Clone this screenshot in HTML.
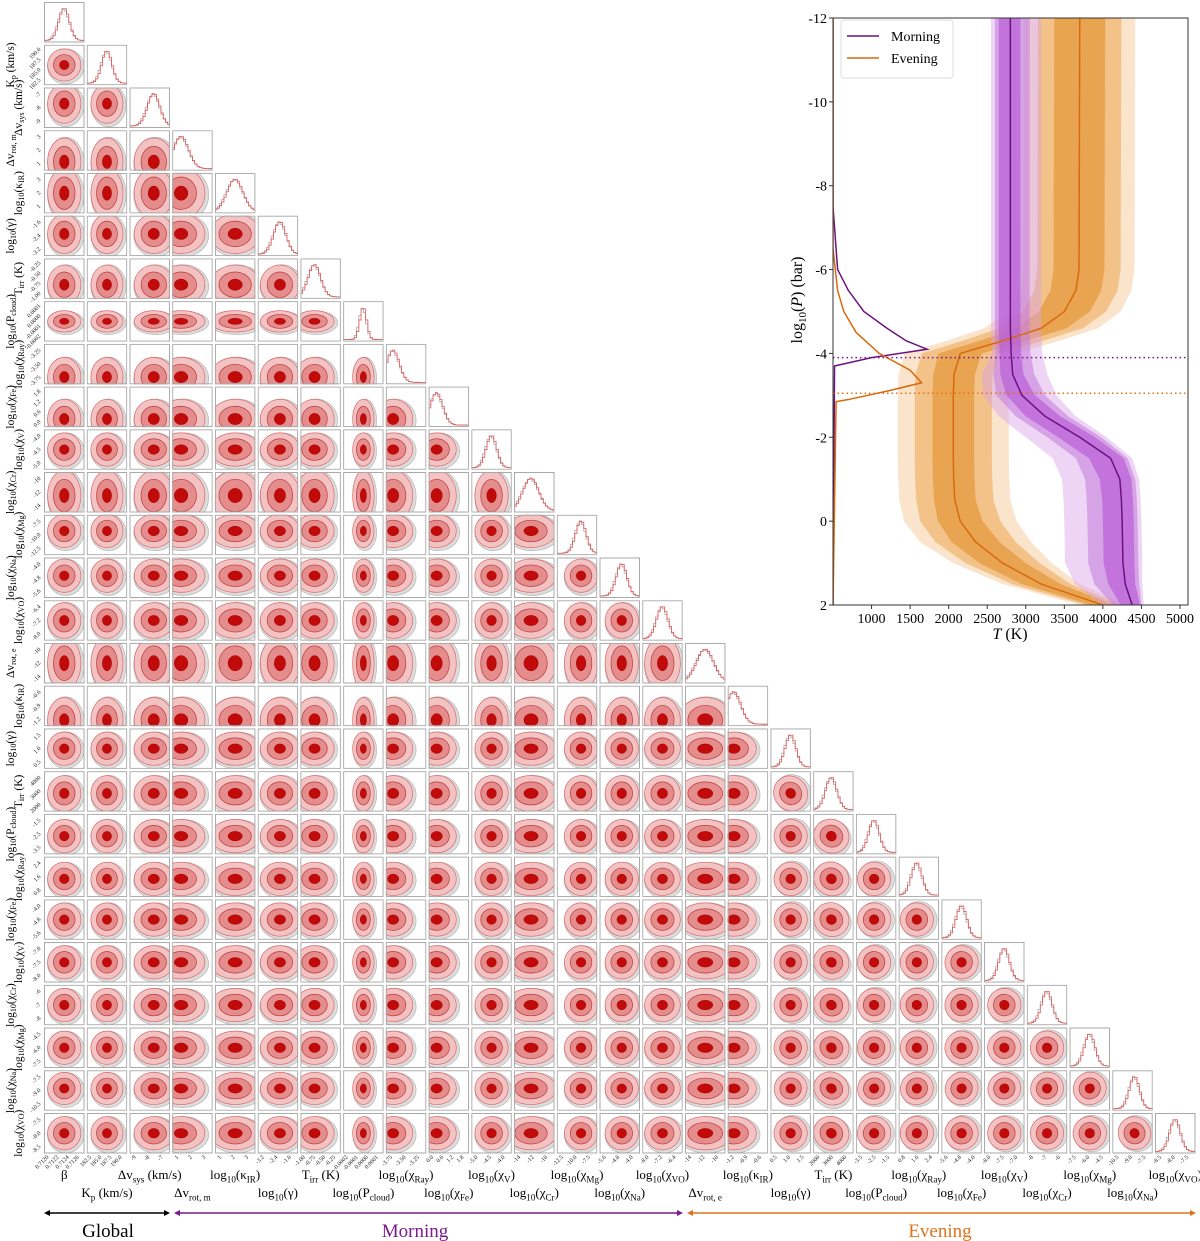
<!DOCTYPE html>
<html><head><meta charset="utf-8"><style>
html,body{margin:0;padding:0;background:#fff;}
svg{display:block;font-family:"Liberation Serif",serif;}
</style></head><body>
<svg id="root" width="1200" height="1241" viewBox="0 0 1200 1241" xmlns="http://www.w3.org/2000/svg"></svg>
<script>
// ---------- Corner plot data ----------
const paramLabels = ["β","K_p (km/s)","Δv_sys (km/s)","Δv_rot, m","log10(κ_IR)","log10(γ)","T_irr (K)","log10(P_cloud)","log10(χ_Ray)","log10(χ_Fe)","log10(χ_V)","log10(χ_Cr)","log10(χ_Mg)","log10(χ_Na)","log10(χ_VO)","Δv_rot, e","log10(κ_IR)","log10(γ)","T_irr (K)","log10(P_cloud)","log10(χ_Ray)","log10(χ_Fe)","log10(χ_V)","log10(χ_Cr)","log10(χ_Mg)","log10(χ_Na)","log10(χ_VO)"];
const postCenter = [0.5,0.5,0.6,0.22,0.5,0.55,0.35,0.5,0.18,0.2,0.5,0.42,0.6,0.55,0.5,0.5,0.15,0.5,0.45,0.45,0.45,0.5,0.5,0.5,0.5,0.55,0.5];
const postWidth  = [0.28,0.27,0.33,0.4,0.42,0.33,0.33,0.18,0.33,0.33,0.28,0.42,0.28,0.28,0.3,0.45,0.38,0.28,0.3,0.28,0.28,0.28,0.28,0.28,0.28,0.27,0.28];
const tickLabels = [["0.7120","0.7122","0.7124","0.7126"],["182.5","185.0","187.5","190.0"],["-9","-8","-7"],["1","2","3"],["1","2","3"],["-3.2","-2.4","-1.6"],["-1.00","-0.75","-0.50","-0.25"],["-0.0002","-0.0001","0.0000","0.0001"],["-3.75","-3.50","-3.25"],["0.0","0.6","1.2","1.8"],["-5.0","-4.5","-4.0"],["-14","-12","-10"],["-12.5","-10.0","-7.5"],["-5.6","-4.8","-4.0"],["-8.0","-7.2","-6.4"],["-14","-12","-10"],["-1.2","-0.9","-0.6"],["0.5","1.0","1.5"],["2000","3000","4000"],["-3.5","-2.5","-1.5"],["0.8","1.6","2.4"],["-5.6","-4.8","-4.0"],["-8.0","-7.5","-7.0"],["-8","-7","-6"],["-7.5","-6.0","-4.5"],["-10.5","-9.0","-7.5"],["-8.5","-8.0","-7.5"]];
// ---------- T-P data ----------
const pLevels = [-12,-6,-5.5,-5,-4.6,-4.3,-4,-3.5,-3,-2.5,-2,-1.5,-1,-0.5,0,0.5,1,1.5,2];
const mornMed = [2800,2800,2800,2800,2800,2805,2810,2830,2950,3250,3700,4100,4220,4240,4250,4255,4260,4290,4380];
const mornLo1 = [150,150,150,150,150,150,150,160,200,250,280,280,260,250,250,250,250,220,150];
const mornHi1 = [130,130,130,130,130,130,130,140,170,200,200,170,150,150,150,150,150,130,100];
const mornLo2 = [200,200,200,200,200,200,200,250,330,380,420,450,450,450,450,450,450,400,250];
const mornHi2 = [250,250,250,250,250,250,250,280,300,300,280,220,200,200,200,200,200,180,120];
const mornLo3 = [250,250,250,250,250,250,250,400,500,600,700,750,750,750,750,750,750,650,400];
const mornHi3 = [400,400,400,400,400,400,400,450,450,400,350,280,250,250,250,250,250,220,150];
const eveMed = [3700,3690,3650,3500,3200,2700,2150,2070,2060,2060,2060,2060,2065,2080,2150,2350,2700,3200,4000];
const eveW1 = [330,330,330,330,330,300,280,270,270,270,270,270,270,270,290,310,300,250,150];
const eveW2 = [540,540,540,540,540,520,500,500,500,500,500,500,500,500,520,520,480,380,220];
const eveW3 = [720,720,720,730,740,730,720,720,720,720,720,720,720,720,730,720,640,500,300];
const cloudMornP = [-12,-7.5,-6,-5.5,-5,-4.6,-4.3,-4.1,-3.9,-3.7,2];
const cloudMornT = [500,500,560,700,900,1200,1450,1720,1000,520,500];
const cloudEveP = [-12,-6.5,-5.5,-5,-4.5,-4,-3.6,-3.3,-3.1,-2.9,-2.85,2];
const cloudEveT = [500,500,560,640,800,1100,1500,1650,1200,700,540,500];
const cloudMornLine = -3.9, cloudEveLine = -3.05;
const tpXTicks = [1000,1500,2000,2500,3000,3500,4000,4500,5000];
const tpYTicks = [-12,-10,-8,-6,-4,-2,0,2];

const NS="http://www.w3.org/2000/svg";
const root=document.getElementById('root');
function mk(tag,attrs,parent){const e=document.createElementNS(NS,tag);for(const k in attrs)e.setAttribute(k,attrs[k]);(parent||root).appendChild(e);return e;}
function labelNode(parent,str,x,y,size,anchor,rot){
  const t=mk('text',{x:x,y:y,'font-size':size,'text-anchor':anchor||'middle',fill:'#000'},parent);
  if(rot)t.setAttribute('transform','rotate('+rot+' '+x+' '+y+')');
  let s=str;
  const add=(txt,sub)=>{const ts=mk('tspan',{},t);if(sub){ts.setAttribute('font-size',size*0.7);ts.setAttribute('dy',size*0.25);}ts.textContent=txt;return ts;};
  let parts=[];
  if(s.startsWith('log10(')){parts.push(['log',false]);parts.push(['10',true]);parts.push(['__RESET__',false]);s=s.slice(5);}
  const m=s.match(/^(.*?)_([A-Za-z]+(?:, [a-z])?)(.*)$/);
  if(m){parts.push([m[1],false]);parts.push([m[2],true]);parts.push(['__RESET__',false]);parts.push([m[3],false]);}else parts.push([s,false]);
  let lastSub=false;
  for(const [txt,sub] of parts){
    if(txt==='__RESET__'){lastSub=true;continue;}
    if(txt==='')continue;
    const ts=add(txt,sub);
    if(!sub&&lastSub){ts.setAttribute('dy',-size*0.25);lastSub=false;}
  }
  return t;
}
// ---------- Corner geometry ----------
const N=27, X0=44, Y0=2, PITCH=42.73, SZ=40.5, WSCALE=1.4;
function cellX(j){return X0+j*PITCH;}
function cellY(i){return Y0+i*PITCH;}
const corner=mk('g',{});


for(let i=0;i<N;i++){
  for(let j=0;j<=i;j++){
    const cx=cellX(j), cy=cellY(i);
    const cell=mk('svg',{x:cx,y:cy,width:SZ,height:SZ,overflow:'hidden'},corner);
    
    
    mk('rect',{x:0,y:0,width:SZ,height:SZ,fill:'#fff'},cell);
    if(i===j){
      const c=postCenter[i], w=postWidth[i]*0.8;
      const bins=18; let dR='', dG='';
      for(let b=0;b<bins;b++){
        const xc=(b+0.5)/bins; const v=Math.exp(-Math.pow((xc-c)/w,2)*1.5);
        const vg=Math.exp(-Math.pow((xc-c+0.02)/(w*1.05),2)*1.5);
        const x1=b/bins*SZ, x2=(b+1)/bins*SZ;
        const yR=SZ-2-v*(SZ-8), yG=SZ-2-vg*(SZ-9);
        dR+=(b===0?'M':'L')+x1+' '+yR+' L'+x2+' '+yR+' ';
        dG+=(b===0?'M':'L')+x1+' '+yG+' L'+x2+' '+yG+' ';
      }
      mk('path',{d:dG,fill:'none',stroke:'#aaa','stroke-width':0.8},cell);
      mk('path',{d:dR,fill:'none',stroke:'#e05555','stroke-width':0.8},cell);
    } else {
      const px=postCenter[j]*SZ, py=(1-postCenter[i])*SZ;
      const rx=postWidth[j]*SZ*WSCALE, ry=postWidth[i]*SZ*WSCALE;
      let rot=0; if(i>=17&&j>=17) rot=-35;
      if(i>=15&&j===18) rot=30;
      const tr='rotate('+rot+' '+px+' '+py+')';
      mk('ellipse',{cx:px+1.5,cy:py+1.5,rx:rx*1.15,ry:ry*1.15,fill:'#dcdcdc',stroke:'#b0b0b0','stroke-width':0.6,transform:tr},cell);
      mk('ellipse',{cx:px,cy:py,rx:rx*1.05,ry:ry*1.05,fill:'#f3c2c2',stroke:'#d86a6a','stroke-width':0.7,transform:tr},cell);
      mk('ellipse',{cx:px,cy:py,rx:rx*0.68,ry:ry*0.68,fill:'#e58c8c',stroke:'#b83a3a','stroke-width':0.7,transform:tr},cell);
      mk('ellipse',{cx:px,cy:py,rx:rx*0.3,ry:ry*0.3,fill:'#c10a0a',stroke:'#a00000','stroke-width':0.5,transform:tr},cell);
    }
    mk('rect',{x:0.5,y:0.5,width:SZ-1,height:SZ-1,fill:'none',stroke:'#a8a8a8','stroke-width':1},cell);
  }
}
// bottom tick labels & axis labels
for(let j=0;j<N;j++){
  const tl=tickLabels[j], cx=cellX(j), by=cellY(N-1)+SZ;
  tl.forEach((s,k)=>{
    const x=cx+(k+0.5)/tl.length*SZ, y=by+4;
    const t=mk('text',{x:x,y:y,'font-size':6,'text-anchor':'end',fill:'#222',transform:'rotate(-45 '+x+' '+y+')'});
    
    
    t.textContent=s;
  });
  const lab=labelNode(root,paramLabels[j],cx+SZ/2,j%2===0?1179:1197,13,'middle');
  
  
}
for(let i=1;i<N;i++){
  const tl=tickLabels[i], cy=cellY(i);
  tl.forEach((s,k)=>{
    const y=cy+SZ-(k+0.5)/tl.length*SZ, x=X0-3;
    const t=mk('text',{x:x,y:y,'font-size':6,'text-anchor':'end',fill:'#222',transform:'rotate(-45 '+x+' '+y+')'});
    
    
    t.textContent=s;
  });
  const lx=i%2===1?11:19;
  const lab=labelNode(root,paramLabels[i],lx,cy+SZ/2,11.5,'middle',-90);
  lab.setAttribute('dominant-baseline','middle');
  
  
}
// group arrows
function arrow(x1,x2,y,color,name){
  const g=mk('g',{});
  
  
  mk('line',{x1:x1+3,y1:y,x2:x2-3,y2:y,stroke:color,'stroke-width':1.5},g);
  mk('path',{d:`M${x1} ${y} l6 -3 l0 6 z`,fill:color},g);
  mk('path',{d:`M${x2} ${y} l-6 -3 l0 6 z`,fill:color},g);
}
arrow(44,170,1213,'#000','global-arrow');
arrow(174,683,1213,'#7a1a8c','morning-arrow');
arrow(687,1196,1213,'#e0731a','evening-arrow');
[['Global',108,'#000'],['Morning',415,'#7a1a8c'],['Evening',940,'#e0731a']].forEach(([s,x,c])=>{
  const t=mk('text',{x:x,y:1237,'font-size':19,'text-anchor':'middle',fill:c});
  
  
  t.textContent=s;
});
// ---------- T-P inset ----------
const AX_L=833, AX_R=1188, AX_T=18, AX_B=605;
function tx(T){return AX_L+(T-500)*0.07711;}
function py(P){return AX_T+(P+12)*(AX_B-AX_T)/14;}
const tp=mk('g',{});


const clip=mk('clipPath',{id:'tpclip'},tp);
mk('rect',{x:AX_L,y:AX_T,width:AX_R-AX_L,height:AX_B-AX_T},clip);
const pg=mk('g',{'clip-path':'url(#tpclip)'},tp);
function band(med,lo,hi,fill,op,name){
  let pts=[];
  for(let k=0;k<pLevels.length;k++)pts.push(tx(med[k]-lo[k])+','+py(pLevels[k]));
  for(let k=pLevels.length-1;k>=0;k--)pts.push(tx(med[k]+hi[k])+','+py(pLevels[k]));
  const p=mk('polygon',{points:pts.join(' '),fill:fill,'fill-opacity':op},pg);
  
  
}
band(eveMed,eveW3,eveW3,'#f5c48f',0.45,'evening-3sigma-band');
band(eveMed,eveW2,eveW2,'#eda550',0.55,'evening-2sigma-band');
band(eveMed,eveW1,eveW1,'#e2902e',0.6,'evening-1sigma-band');
band(mornMed,mornLo3,mornHi3,'#d9a0e8',0.45,'morning-3sigma-band');
band(mornMed,mornLo2,mornHi2,'#c27ad8',0.55,'morning-2sigma-band');
band(mornMed,mornLo1,mornHi1,'#b455d6',0.6,'morning-1sigma-band');
function line(Ts,Ps,color,name,w){
  const d=Ts.map((T,k)=>(k?'L':'M')+tx(T)+' '+py(Ps[k])).join(' ');
  const p=mk('path',{d:d,fill:'none',stroke:color,'stroke-width':w||1.5},pg);
  
  
}
line(eveMed,pLevels,'#d96a0c','evening-median-line');
line(mornMed,pLevels,'#6a1282','morning-median-line');
line(cloudMornT,cloudMornP,'#6a1282','morning-cloud-distribution');
line(cloudEveT,cloudEveP,'#d96a0c','evening-cloud-distribution');
[[cloudMornLine,'#7a1a8c','morning-cloud-top-line'],[cloudEveLine,'#e0731a','evening-cloud-top-line']].forEach(([P,c,n])=>{
  const l=mk('line',{x1:AX_L,x2:AX_R,y1:py(P),y2:py(P),stroke:c,'stroke-width':1.6,'stroke-dasharray':'1.5 3'},pg);
  
  
});
mk('rect',{x:AX_L,y:AX_T,width:AX_R-AX_L,height:AX_B-AX_T,fill:'none',stroke:'#333','stroke-width':1},tp);
tpXTicks.forEach(T=>{
  mk('line',{x1:tx(T),x2:tx(T),y1:AX_B,y2:AX_B+4,stroke:'#333'},tp);
  const t=mk('text',{x:tx(T),y:AX_B+18,'font-size':14,'text-anchor':'middle'},tp);
  
  
  t.textContent=T;
});
tpYTicks.forEach(P=>{
  mk('line',{x1:AX_L-4,x2:AX_L,y1:py(P),y2:py(P),stroke:'#333'},tp);
  const t=mk('text',{x:AX_L-6,y:py(P)+5,'font-size':14,'text-anchor':'end'},tp);
  
  
  t.textContent=P;
});
const xt=mk('text',{x:1010,y:639,'font-size':16,'text-anchor':'middle'},tp);


xt.innerHTML='<tspan font-style="italic">T</tspan> (K)';
const yt=mk('text',{x:802,y:300,'font-size':16,'text-anchor':'middle',transform:'rotate(-90 802 300)'},tp);


yt.innerHTML='log<tspan font-size="11" dy="4">10</tspan><tspan dy="-4">(</tspan><tspan font-style="italic">P</tspan>) (bar)';
const lg=mk('g',{},tp);


mk('rect',{x:841,y:20,width:112,height:58,fill:'#fff','fill-opacity':0.85,stroke:'#ddd',rx:3},lg);
[['Morning','#6a1282',36],['Evening','#d96a0c',58]].forEach(([s,c,y])=>{
  const e=mk('g',{},lg);
  
  
  mk('line',{x1:847,x2:879,y1:y,y2:y,stroke:c,'stroke-width':1.5},e);
  const t=mk('text',{x:891,y:y+5,'font-size':14},e);
  t.textContent=s;
});
</script>
</body></html>
